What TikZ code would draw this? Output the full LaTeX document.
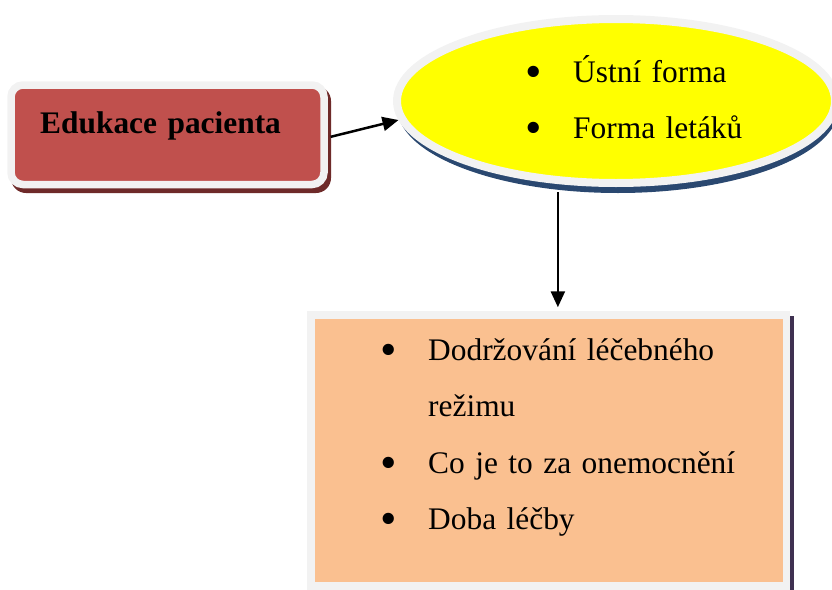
\documentclass[tikz,border=0pt]{standalone}
\usepackage{fontspec}
\setmainfont{Liberation Serif}
\usepackage{xcolor}
\usetikzlibrary{shapes.geometric,arrows.meta}

\definecolor{edgegrey}{HTML}{F2F2F2}
\definecolor{boxred}{HTML}{C0504D}
\definecolor{boxredshadow}{HTML}{6E2A29}
\definecolor{ovalyellow}{HTML}{FFFF00}
\definecolor{ovalshadow}{HTML}{2A4870}
\definecolor{boxpeach}{HTML}{FAC090}
\definecolor{boxpeachshadow}{HTML}{3F3151}

\newcommand{\bodyfont}{\fontsize{31.4}{56.6}\selectfont}
\newcommand{\bulletitem}{\makebox[45.5pt][l]{\hspace*{-2pt}\raisebox{-5pt}{\scalebox{1.5}{\textbullet}}}}

\begin{document}
\begin{tikzpicture}[x=1pt,y=1pt,yscale=-1,xscale=1,
    shapebox/.style={draw=edgegrey,line width=7.5pt,inner sep=0pt},
    listtext/.style={anchor=base west,inner sep=0pt,align=left,font=\bodyfont},
    arrowline/.style={line width=2.5pt,-{Triangle[length=16pt,width=14pt]}}]
    \useasboundingbox (0,0) rectangle (832,589);

    %Shadows under the shapes
    \fill [boxredshadow, rounded corners=15pt] (11,86) rectangle (331,193);
    \fill [ovalshadow] (618,107) ellipse [x radius=221, y radius=86];
    \fill [boxpeachshadow] (312,316) rectangle (794.25,600);

    %Shape: Rounded Rect
    \draw (167.5,134.75) node [shapebox,fill=boxred,rounded corners=12pt,minimum width=313pt,minimum height=99.5pt] (edukace) {};
    %Shape: Ellipse
    \draw (616,101) node [shapebox,ellipse,line width=8pt,fill=ovalyellow,minimum width=438pt,minimum height=164pt] (formy) {};
    %Shape: Rectangle
    \draw (548.75,450.5) node [shapebox,fill=boxpeach,minimum width=475.5pt,minimum height=271pt] (obsah) {};

    % Text Node
    \draw (40,133) node [listtext,font=\bodyfont\bfseries,text width=270pt] (edukace-text) {Edukace pacienta};
    % Text Node
    \draw (527.5,82) node [listtext,text width=280pt] (formy-text) {\bulletitem Ústní forma\\\bulletitem Forma letáků};
    % Text Node
    \draw (382.5,360) node [listtext,text width=400pt] (obsah-text) {\hyphenpenalty=10000\bulletitem Dodržování léčebného\\\hspace*{45.5pt}režimu\\\bulletitem Co je to za onemocnění\\\bulletitem Doba léčby};

    %Straight Lines
    \draw [arrowline,shorten <=3pt] (edukace.-1.5) -- (formy.185);
    %Straight Lines
    \draw [arrowline,shorten <=8pt,shorten >=4pt] (formy.235) -- (formy.235 |- obsah.north);
\end{tikzpicture}
\end{document}
